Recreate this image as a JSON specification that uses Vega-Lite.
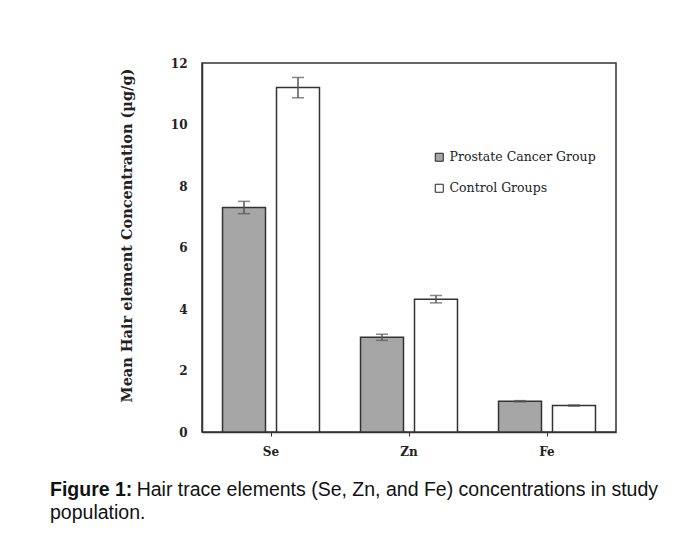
{
  "$schema": "https://vega.github.io/schema/vega-lite/v6.json",
  "autosize": {"type": "none"},
  "padding": {"left": 202, "top": 63, "right": 67, "bottom": 102},
  "width": 414,
  "height": 369,
  "background": "white",
  "title": {
    "text": "Figure 1:",
    "subtitle": ["\u200b\u00a0\u00a0\u00a0\u00a0\u00a0\u00a0\u00a0\u00a0\u00a0\u00a0\u00a0\u00a0\u00a0\u00a0\u00a0\u00a0Hair trace elements (Se, Zn, and Fe) concentrations in study", "population."],
    "orient": "bottom",
    "anchor": "start",
    "frame": "group",
    "dx": -152,
    "offset": 24,
    "font": "Liberation Sans",
    "fontSize": 19.5,
    "fontWeight": "bold",
    "color": "#111",
    "subtitleFont": "Liberation Sans",
    "subtitleFontSize": 19.5,
    "subtitleFontWeight": "normal",
    "subtitleColor": "#111",
    "subtitlePadding": -19.5,
    "subtitleLineHeight": 23,
    "baseline": "top"
  },
  "data": {
    "values": [
      {"element": "Se", "group": "Prostate Cancer Group", "mean": 7.3, "lo": 7.1, "hi": 7.5},
      {"element": "Se", "group": "Control Groups", "mean": 11.2, "lo": 10.87, "hi": 11.53},
      {"element": "Zn", "group": "Prostate Cancer Group", "mean": 3.08, "lo": 2.98, "hi": 3.18},
      {"element": "Zn", "group": "Control Groups", "mean": 4.32, "lo": 4.2, "hi": 4.44},
      {"element": "Fe", "group": "Prostate Cancer Group", "mean": 1.0, "lo": 0.98, "hi": 1.02},
      {"element": "Fe", "group": "Control Groups", "mean": 0.86, "lo": 0.84, "hi": 0.88}
    ]
  },
  "encoding": {
    "x": {
      "field": "element", "type": "nominal", "sort": ["Se", "Zn", "Fe"],
      "scale": {"paddingInner": 0, "paddingOuter": 0},
      "axis": {
        "title": null, "labelAngle": 0, "labelFont": "DejaVu Serif", "labelFontWeight": "bold",
        "labelFontSize": 12, "labelColor": "#222", "tickSize": 4, "tickColor": "#333",
        "domainColor": "#333", "domainWidth": 1.5, "labelPadding": 10
      }
    },
    "xOffset": {
      "field": "group", "type": "nominal", "sort": ["Prostate Cancer Group", "Control Groups"],
      "scale": {"paddingInner": 0.204, "paddingOuter": 0.38}
    }
  },
  "layer": [
    {
      "mark": {"type": "bar", "stroke": "#333", "strokeWidth": 1.5},
      "encoding": {
        "y": {
          "field": "mean", "type": "quantitative",
          "scale": {"domain": [0, 12], "nice": false},
          "axis": {
            "title": "Mean Hair element Concentration (µg/g)",
            "values": [0, 2, 4, 6, 8, 10, 12],
            "grid": false, "ticks": false, "labelPadding": 15,
            "labelFont": "DejaVu Serif", "labelFontWeight": "bold", "labelFontSize": 12, "labelColor": "#222",
            "titleFont": "DejaVu Serif", "titleFontWeight": "bold", "titleFontSize": 14.5, "titleColor": "#222",
            "titlePadding": 36, "titleY": 172, "domainColor": "#333", "domainWidth": 1.5
          }
        },
        "color": {
          "field": "group", "type": "nominal", "sort": ["Prostate Cancer Group", "Control Groups"],
          "scale": {"range": ["#a6a6a6", "#ffffff"]},
          "legend": {
            "title": null, "orient": "none", "legendX": 231, "legendY": 88,
            "symbolType": "square", "symbolSize": 64, "symbolStrokeColor": "#222", "symbolStrokeWidth": 1,
            "labelFont": "DejaVu Serif", "labelFontSize": 12.5, "labelColor": "#222",
            "rowPadding": 18, "labelOffset": 4
          }
        }
      }
    },
    {
      "mark": {"type": "rule", "color": "#555", "strokeWidth": 1.5},
      "encoding": {
        "y": {"field": "lo", "type": "quantitative"},
        "y2": {"field": "hi"}
      }
    },
    {
      "mark": {"type": "tick", "color": "#555", "size": 12, "thickness": 1.5},
      "encoding": {"y": {"field": "hi", "type": "quantitative"}}
    },
    {
      "mark": {"type": "tick", "color": "#555", "size": 12, "thickness": 1.5},
      "encoding": {"y": {"field": "lo", "type": "quantitative"}}
    }
  ],
  "config": {
    "view": {"stroke": "#333", "strokeWidth": 1.5}
  }
}
